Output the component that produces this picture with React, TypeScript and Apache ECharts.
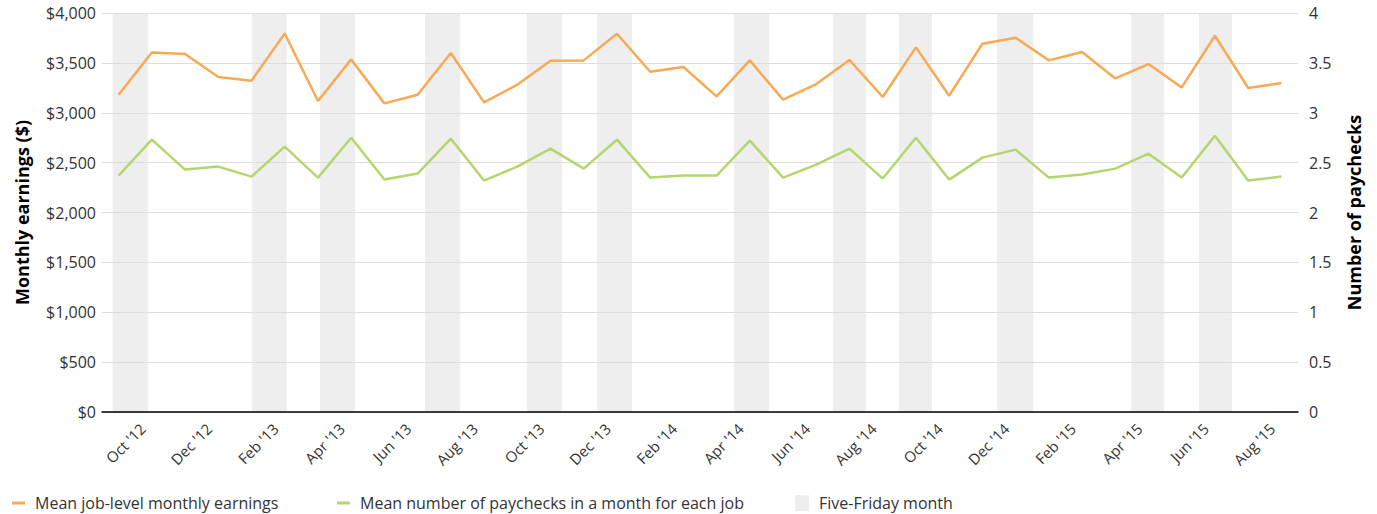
import React, { useEffect, useRef } from "react";
import * as echarts from "echarts";

const months = [
  "Oct '12", "Nov '12", "Dec '12", "Jan '13", "Feb '13", "Mar '13", "Apr '13", "May '13", "Jun '13",
  "Jul '13", "Aug '13", "Sep '13", "Oct '13", "Nov '13", "Dec '13", "Jan '14", "Feb '14", "Mar '14",
  "Apr '14", "May '14", "Jun '14", "Jul '14", "Aug '14", "Sep '14", "Oct '14", "Nov '14", "Dec '14",
  "Jan '15", "Feb '15", "Mar '15", "Apr '15", "May '15", "Jun '15", "Jul '15", "Aug '15", "Sep '15",
];

const earnings = [
  3181, 3605, 3589, 3358, 3321, 3795, 3118, 3535, 3094, 3181, 3599, 3104, 3281, 3522, 3525, 3792, 3411, 3459,
  3164, 3525, 3131, 3288, 3529, 3158, 3655, 3171, 3692, 3752, 3525, 3609, 3344, 3488, 3254, 3772, 3248, 3298,
];

const paychecks = [
  2.37, 2.73, 2.43, 2.46, 2.36, 2.66, 2.35, 2.75, 2.33, 2.39, 2.74, 2.32, 2.46, 2.64, 2.44, 2.73, 2.35, 2.37,
  2.37, 2.72, 2.35, 2.48, 2.64, 2.34, 2.75, 2.33, 2.55, 2.63, 2.35, 2.38, 2.44, 2.59, 2.35, 2.77, 2.32, 2.36,
];

// Five-Friday month shading, as [start, end] positions in months from the start of Oct '12
const fiveFridayStart = [0.32, 4.52, 6.56, 9.72, 12.79, 14.9, 19.02, 22.0, 23.99, 26.94, 30.98, 33.02];
const fiveFridayEnd = [1.38, 5.56, 7.62, 10.78, 13.85, 15.95, 20.08, 23.0, 24.98, 28.03, 31.97, 34.01];

const earningsTicks = [0, 4000, 500];
const paycheckTicks = [0, 4, 0.5];

const NAME_E = "Mean job-level monthly earnings";
const NAME_P = "Mean number of paychecks in a month for each job";
const NAME_F = "Five-Friday month";

const FONT = "'Open Sans', sans-serif";
const ORANGE = "#F9A953";
const GREEN = "#B5D56E";
const SHADE = "#EEEEEE";

export default function App() {
  const ref = useRef<HTMLDivElement>(null);
  useEffect(() => {
    if (!ref.current) return;
    const chart = echarts.init(ref.current, null, { renderer: "svg" });
    const shadeData = fiveFridayStart.map((s, i) => [s, fiveFridayEnd[i], earningsTicks[1]]);
    const labelShift = 24;
    const legendText = { fontSize: 16, color: "#333", fontFamily: FONT, padding: [0, 0, 0, 5] };
    const option: any = {
      animation: false,
      textStyle: { fontFamily: FONT },
      grid: [
        { left: 102, right: 79, top: 13, bottom: 102 },
        { left: 102 + labelShift, right: 79 - labelShift, top: 13, bottom: 102 },
      ],
      xAxis: [
        {
          type: "category",
          gridIndex: 0,
          data: months,
          boundaryGap: true,
          axisLine: { lineStyle: { color: "#000", width: 1.5 } },
          axisTick: { interval: 1, length: 6, lineStyle: { color: "#000" } },
          axisLabel: { show: false },
        },
        {
          type: "value",
          gridIndex: 0,
          min: 0,
          max: months.length,
          show: false,
        },
        {
          type: "category",
          gridIndex: 1,
          data: months,
          boundaryGap: true,
          axisLine: { show: false },
          axisTick: { show: false },
          axisLabel: {
            interval: 1,
            rotate: 45,
            margin: 14,
            fontSize: 15,
            color: "#333",
            fontFamily: FONT,
          },
        },
      ],
      yAxis: [
        {
          type: "value",
          gridIndex: 0,
          min: earningsTicks[0],
          max: earningsTicks[1],
          interval: earningsTicks[2],
          name: "Monthly earnings ($)",
          nameLocation: "middle",
          nameGap: 71,
          nameTextStyle: { fontSize: 18, fontWeight: "bold", color: "#000", fontFamily: FONT },
          axisLine: { show: false },
          axisTick: { show: false },
          splitLine: { lineStyle: { color: "#DDDDDD", width: 1 } },
          axisLabel: {
            margin: 6,
            fontSize: 16,
            color: "#333",
            fontFamily: FONT,
            formatter: (v: number) => "$" + v.toLocaleString("en-US"),
          },
        },
        {
          type: "value",
          gridIndex: 0,
          position: "right",
          min: paycheckTicks[0],
          max: paycheckTicks[1],
          interval: paycheckTicks[2],
          name: "Number of paychecks",
          nameLocation: "middle",
          nameGap: 47,
          nameTextStyle: { fontSize: 18, fontWeight: "bold", color: "#000", fontFamily: FONT },
          axisLine: { show: false },
          axisTick: { show: false },
          splitLine: { show: false },
          axisLabel: { margin: 11, fontSize: 16, color: "#333", fontFamily: FONT },
        },
        {
          type: "value",
          gridIndex: 1,
          show: false,
        },
      ],
      legend: [
        {
          left: 7,
          top: 490,
          icon: "rect",
          itemWidth: 13,
          itemHeight: 3,
          data: [NAME_E],
          textStyle: legendText,
        },
        {
          left: 332,
          top: 490,
          icon: "rect",
          itemWidth: 13,
          itemHeight: 3,
          data: [NAME_P],
          textStyle: legendText,
        },
        {
          left: 790,
          top: 490,
          icon: "rect",
          itemWidth: 14,
          itemHeight: 16,
          data: [NAME_F],
          textStyle: legendText,
        },
      ],
      series: [
        {
          name: NAME_F,
          type: "custom",
          xAxisIndex: 1,
          yAxisIndex: 0,
          z: -1,
          itemStyle: { color: SHADE },
          encode: { x: [0, 1], y: 2 },
          data: shadeData,
          renderItem: (params: any, api: any) => {
            const p0 = api.coord([api.value(0), 0]);
            const p1 = api.coord([api.value(1), api.value(2)]);
            return {
              type: "rect",
              shape: { x: p0[0], y: p1[1], width: p1[0] - p0[0], height: p0[1] - p1[1] },
              style: { fill: SHADE },
            };
          },
        },
        {
          name: NAME_E,
          type: "line",
          xAxisIndex: 0,
          yAxisIndex: 0,
          data: earnings,
          symbol: "none",
          lineStyle: { color: ORANGE, width: 2.5 },
          itemStyle: { color: ORANGE },
        },
        {
          name: NAME_P,
          type: "line",
          xAxisIndex: 0,
          yAxisIndex: 1,
          data: paychecks,
          symbol: "none",
          lineStyle: { color: GREEN, width: 2.5 },
          itemStyle: { color: GREEN },
        },
      ],
    };
    chart.setOption(option);
    return () => chart.dispose();
  }, []);
  return (
    <div
      ref={ref}
      style={{ position: "fixed", left: 0, top: 0, width: 1377, height: 514, background: "#fff" }}
    />
  );
}
